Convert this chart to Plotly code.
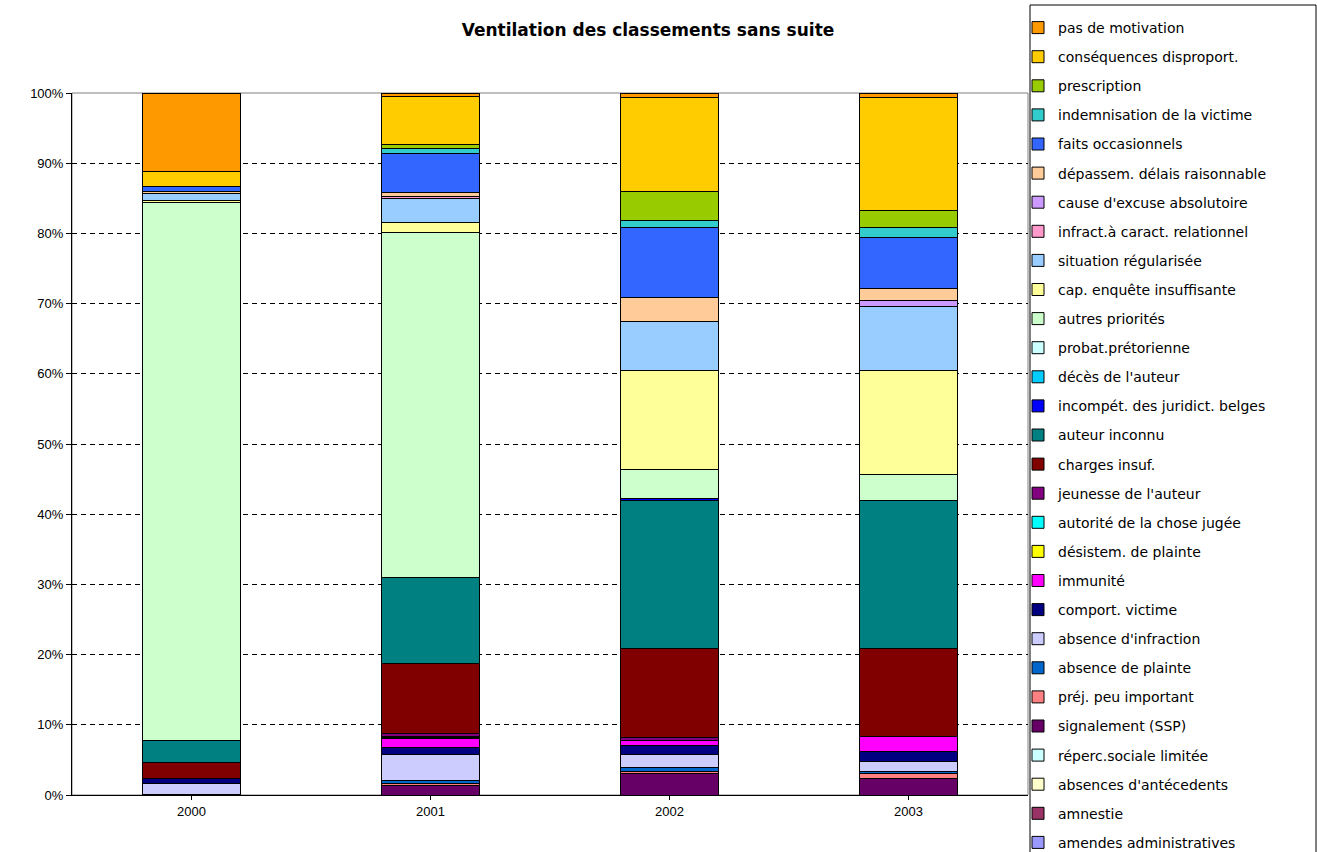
import plotly.graph_objects as go

years = ["2000", "2001", "2002", "2003"]

# series, bottom-to-top stacking order
series = [
    "amendes administratives", "amnestie", "absences d'antécedents",
    "réperc.sociale limitée", "signalement (SSP)", "préj. peu important",
    "absence de plainte", "absence d'infraction", "comport. victime",
    "immunité", "désistem. de plainte", "autorité de la chose jugée",
    "jeunesse de l'auteur", "charges insuf.", "auteur inconnu",
    "incompét. des juridict. belges", "décès de l'auteur", "probat.prétorienne",
    "autres priorités", "cap. enquête insuffisante", "situation régularisée",
    "infract.à caract. relationnel", "cause d'excuse absolutoire",
    "dépassem. délais raisonnable", "faits occasionnels",
    "indemnisation de la victime", "prescription", "conséquences disproport.",
    "pas de motivation",
]

v2000 = [0, 0, 0, 0, 0.1, 0, 0, 1.6, 0.6, 0, 0, 0, 0, 2.4, 3.0, 0, 0, 0,
         76.7, 0.3, 1.0, 0, 0, 0.3, 0.7, 0, 0, 2.1, 11.2]
v2001 = [0, 0, 0, 0, 1.4, 0.3, 0.3, 3.7, 1.0, 1.3, 0.2, 0.1, 0.4, 10.1, 12.2,
         0, 0, 0, 49.2, 1.4, 3.4, 0.2, 0.1, 0.5, 5.6, 0.7, 0.5, 6.9, 0.5]
v2002 = [0, 0, 0, 0, 3.0, 0.4, 0.5, 1.8, 1.3, 0.8, 0, 0, 0.4, 12.6, 21.1,
         0.3, 0, 0, 4.1, 14.2, 6.9, 0, 0, 3.5, 9.9, 1.1, 4.0, 13.5, 0.6]
v2003 = [0, 0, 0, 0, 2.4, 0.6, 0.4, 1.4, 1.4, 2.1, 0, 0, 0.1, 12.4, 21.1,
         0, 0, 0, 3.8, 14.7, 9.2, 0, 0.9, 1.7, 7.2, 1.4, 2.5, 16.1, 0.6]

y_tick_vals = [0, 10, 20, 30, 40, 50, 60, 70, 80, 90, 100]
y_tick_text = ["0%", "10%", "20%", "30%", "40%", "50%", "60%", "70%", "80%", "90%", "100%"]

colors = [
    "#9999FF", "#993366", "#FFFFCC", "#CCFFFF", "#660066", "#FF8080",
    "#0066CC", "#CCCCFF", "#000080", "#FF00FF", "#FFFF00", "#00FFFF",
    "#800080", "#800000", "#008080", "#0000FF", "#00CCFF", "#CCFFFF",
    "#CCFFCC", "#FFFF99", "#99CCFF", "#FF99CC", "#CC99FF", "#FFCC99",
    "#3366FF", "#33CCCC", "#99CC00", "#FFCC00", "#FF9900",
]

FONT = "Liberation Sans, Arial, sans-serif"
LFONT = "DejaVu Sans, Verdana, sans-serif"

W, H = 1317, 852
L, R, T, B = 72, 289, 93, 57
PW, PH = W - L - R, H - T - B

fig = go.Figure()
n = len(series)
for i, name in enumerate(series):
    vals = [v2000[i], v2001[i], v2002[i], v2003[i]]
    fig.add_trace(go.Bar(
        x=years, y=vals, name=name, legendgroup=name, legendrank=n - i,
        marker=dict(color=colors[i], line=dict(color="black", width=1)),
    ))

fig.update_layout(
    barmode="stack",
    bargap=0.59,
    width=W, height=H,
    margin=dict(l=L, r=R, t=T, b=B, autoexpand=False),
    paper_bgcolor="white", plot_bgcolor="white",
    font=dict(family=FONT, size=13, color="black"),
    title=dict(text="<b>Ventilation des classements sans suite</b>",
               x=648 / W, xanchor="center", y=1 - 30 / H, yanchor="middle",
               font=dict(family=LFONT, size=17, color="black")),
    showlegend=True,
    legend=dict(
        x=(1018 - L) / PW, xanchor="left",
        y=1 + (T - 12) / PH, yanchor="top",
        traceorder="grouped", tracegroupgap=7.9,
        borderwidth=0, bgcolor="rgba(0,0,0,0)",
        font=dict(family=LFONT, size=14, color="black"),
        itemwidth=30, maxheight=1200,
    ),
    xaxis=dict(showline=True, linecolor="black", linewidth=1,
               ticks="outside", ticklen=4, tickcolor="black",
               tickfont=dict(size=13), showgrid=False),
    yaxis=dict(range=[0, 100], tickvals=y_tick_vals, ticktext=y_tick_text,
               showline=True, linecolor="black", linewidth=1,
               ticks="outside", ticklen=5, tickcolor="black",
               showgrid=True, gridcolor="black", griddash="5px,4px", gridwidth=1,
               zeroline=False, tickfont=dict(size=13)),
    shapes=[
        dict(type="rect", xref="paper", yref="paper", x0=0, x1=1, y0=0, y1=1,
             line=dict(color="#808080", width=1), layer="below"),
        dict(type="rect", xref="paper", yref="paper",
             x0=(1030 - L) / PW, x1=(1316 - L) / PW,
             y0=-(B + 3) / PH, y1=1 + (T - 5) / PH,
             line=dict(color="black", width=1), fillcolor="rgba(0,0,0,0)",
             layer="above"),
    ],
)

fig.write_html("out.html")
